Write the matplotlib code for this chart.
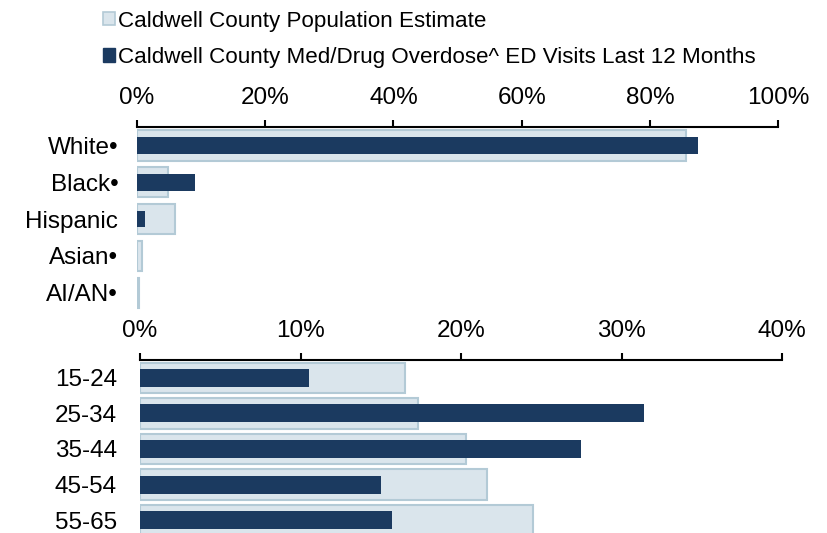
import matplotlib.pyplot as plt
from matplotlib.patches import Patch
from matplotlib.ticker import FuncFormatter

plt.rcParams['font.family'] = ['Liberation Sans', 'DejaVu Sans']

# race / ethnicity (percent)
race_labels = ["White•", "Black•", "Hispanic", "Asian•", "AI/AN•"]
race_pop = [85.6, 4.9, 6.0, 0.7, 0.25]
race_ed = [87.5, 9.1, 1.2, 0.0, 0.0]

# age groups (percent)
age_labels = ["15-24", "25-34", "35-44", "45-54", "55-65"]
age_pop = [16.5, 17.3, 20.3, 21.6, 24.5]
age_ed = [10.5, 31.4, 27.5, 15.0, 15.7]

pop_face = "#dae5ec"
pop_edge = "#b3cad6"
ed_color = "#1b3a60"

fig = plt.figure(figsize=(8.27, 5.33), dpi=100)

ax1 = fig.add_axes([0.1657, 0.4165, 0.7751, 0.3452])
ax2 = fig.add_axes([0.1693, -0.0094, 0.7763, 0.334])


def draw(ax, labels, pop, ed, xmax, step, pop_h, ed_h, ypad):
    y = list(range(len(labels)))
    ax.barh(y, pop, height=pop_h, color=pop_face, edgecolor=pop_edge, linewidth=1.5)
    ax.barh(y, ed, height=ed_h, color=ed_color, linewidth=0)
    ax.set_xlim(0, xmax)
    ax.set_ylim(len(labels) - 0.5, -0.5)
    ax.set_yticks(y)
    ax.set_yticklabels(labels)
    ax.set_xticks(range(0, xmax + 1, step))
    ax.xaxis.set_major_formatter(FuncFormatter(lambda v, p: f"{v:.0f}%"))
    ax.xaxis.tick_top()
    for s in ["left", "right", "bottom"]:
        ax.spines[s].set_visible(False)
    ax.spines["top"].set_linewidth(1.5)
    ax.tick_params(axis="x", length=5, width=1.5, pad=8, labelsize=17.5)
    ax.tick_params(axis="y", length=0, pad=ypad, labelsize=17.5)
    ax.set_facecolor("none")


draw(ax1, race_labels, race_pop, race_ed, 100, 20, 0.82, 0.46, 13.5)
draw(ax2, age_labels, age_pop, age_ed, 40, 10, 0.85, 0.5, 16.5)

handles = [
    Patch(facecolor=pop_face, edgecolor=pop_edge, linewidth=1.2),
    Patch(facecolor=ed_color, edgecolor=ed_color),
]
fig.legend(handles,
           ["Caldwell County Population Estimate",
            "Caldwell County Med/Drug Overdose^ ED Visits Last 12 Months"],
           loc="upper left", bbox_to_anchor=(0.1135, 0.997), frameon=False,
           fontsize=16.1, handlelength=0.55, handleheight=0.55,
           handletextpad=0.12, labelspacing=0.68, borderaxespad=0)

fig.savefig("out.png", dpi=100)
